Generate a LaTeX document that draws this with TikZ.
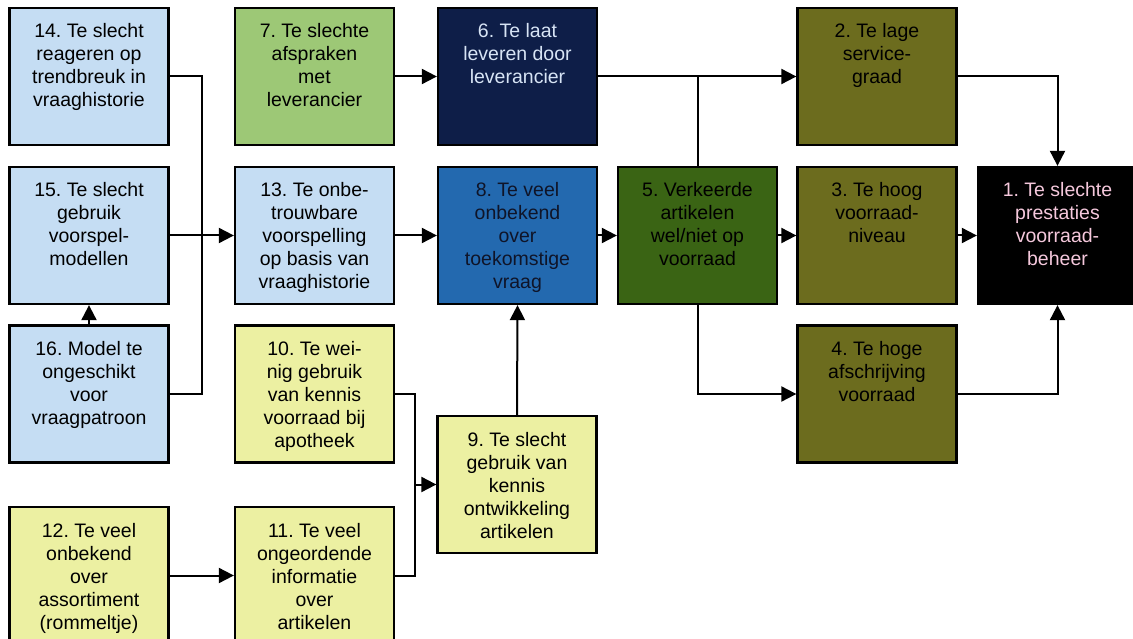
\documentclass[tikz,border=0pt]{standalone}
\usepackage{fontspec}
\setmainfont{Liberation Sans}
\usetikzlibrary{arrows.meta}
\frenchspacing
\definecolor{lblue}{RGB}{197,221,243}
\definecolor{lgreen}{RGB}{157,200,118}
\definecolor{navy}{RGB}{14,30,72}
\definecolor{mblue}{RGB}{35,105,175}
\definecolor{dgreen}{RGB}{58,100,20}
\definecolor{olive}{RGB}{108,108,30}
\definecolor{lyellow}{RGB}{236,240,162}
\definecolor{txtsix}{RGB}{215,228,245}
\definecolor{txtone}{RGB}{245,200,220}
\definecolor{txteight}{RGB}{15,20,40}
\newcommand{\bxt}[1]{\parbox[c][137pt][t]{159pt}{\centering\frenchspacing\rule{0pt}{30pt}#1}}
\tikzset{
  cbox/.style={draw=black, line width=2.3pt, inner sep=0pt, minimum width=159pt, minimum height=137pt,
    font=\fontsize{19.5}{23}\selectfont},
  conn/.style={line width=2pt, draw=black},
  arr/.style={conn, -{Triangle[length=15pt,width=15pt]}}
}
\begin{document}
\begin{tikzpicture}[x=1pt,y=-1pt]
\useasboundingbox[fill=white] (0,0) rectangle (1133,639);
% column 1
\node[cbox, fill=lblue] (b14) at (89,76.5) {\bxt{14. Te slecht\\reageren op\\trendbreuk in\\vraaghistorie}};
\node[cbox, fill=lblue] (b15) at (89,235.5) {\bxt{15. Te slecht\\gebruik\\voorspel-\\modellen}};
\node[cbox, fill=lblue] (b16) at (89,394) {\bxt{16. Model te\\ongeschikt\\voor\\vraagpatroon}};
\node[cbox, fill=lyellow] (b12) at (89,575.5) {\bxt{12. Te veel\\onbekend\\over\\assortiment\\(rommeltje)}};
% column 2
\node[cbox, fill=lgreen] (b7) at (314.5,76.5) {\bxt{7. Te slechte\\afspraken\\met\\leverancier}};
\node[cbox, fill=lblue] (b13) at (314.5,235.5) {\bxt{13. Te onbe-\\trouwbare\\voorspelling\\op basis van\\vraaghistorie}};
\node[cbox, fill=lyellow] (b10) at (314.5,394) {\bxt{10. Te wei-\\nig gebruik\\van kennis\\voorraad bij\\apotheek}};
\node[cbox, fill=lyellow] (b11) at (314.5,575.5) {\bxt{11. Te veel\\ongeordende\\informatie\\over\\artikelen}};
% column 3
\node[cbox, fill=navy, text=txtsix] (b6) at (517.5,76.5) {\bxt{6. Te laat\\leveren door\\leverancier}};
\node[cbox, fill=mblue, text=txteight] (b8) at (517.5,235.5) {\bxt{8. Te veel\\onbekend\\over\\toekomstige\\vraag}};
\node[cbox, fill=lyellow] (b9) at (517,484.5) {\bxt{9. Te slecht\\gebruik van\\kennis\\ontwikkeling\\artikelen}};
% column 4
\node[cbox, fill=dgreen] (b5) at (697.5,235.5) {\bxt{5. Verkeerde\\artikelen\\wel/niet op\\voorraad}};
% column 5
\node[cbox, fill=olive] (b2) at (877,76.5) {\bxt{2. Te lage\\service-\\graad}};
\node[cbox, fill=olive] (b3) at (877,235.5) {\bxt{3. Te hoog\\voorraad-\\niveau}};
\node[cbox, fill=olive] (b4) at (877,394) {\bxt{4. Te hoge\\afschrijving\\voorraad}};
% column 6
\node[cbox, fill=black, text=txtone] (b1) at (1057.5,235.5) {\bxt{1. Te slechte\\prestaties\\voorraad-\\beheer}};
% connectors
\coordinate (j1) at (202,235.5);
\draw[conn] (b14.east) -| (j1) |- (b16.east);
\draw[arr] (b15.east) -- (b13.west);
\draw[arr] (b16.north) -- (b15.south);
\draw[arr] (b7.east) -- (b6.west);
\draw[arr] (b13.east) -- (b8.west);
\draw[arr] (b8.east) -- (b5.west);
\draw[arr] (b5.east) -- (b3.west);
\draw[arr] (b3.east) -- (b1.west);
\draw[arr] (b6.east) -- (b2.west);
\draw[conn] (b5.north) -- (b5.north |- b6.east);
\draw[arr] (b5.south) |- (b4.west);
\draw[arr] (b2.east) -| (b1.north);
\draw[arr] (b4.east) -| (b1.south);
\coordinate (j2) at (415,484.5);
\draw[conn] (b10.east) -| (j2) |- (b11.east);
\draw[arr] (j2) -- (b9.west);
\draw[arr] (b9.north) -- (b8.south);
\draw[arr] (b12.east) -- (b11.west);
\end{tikzpicture}
\end{document}
